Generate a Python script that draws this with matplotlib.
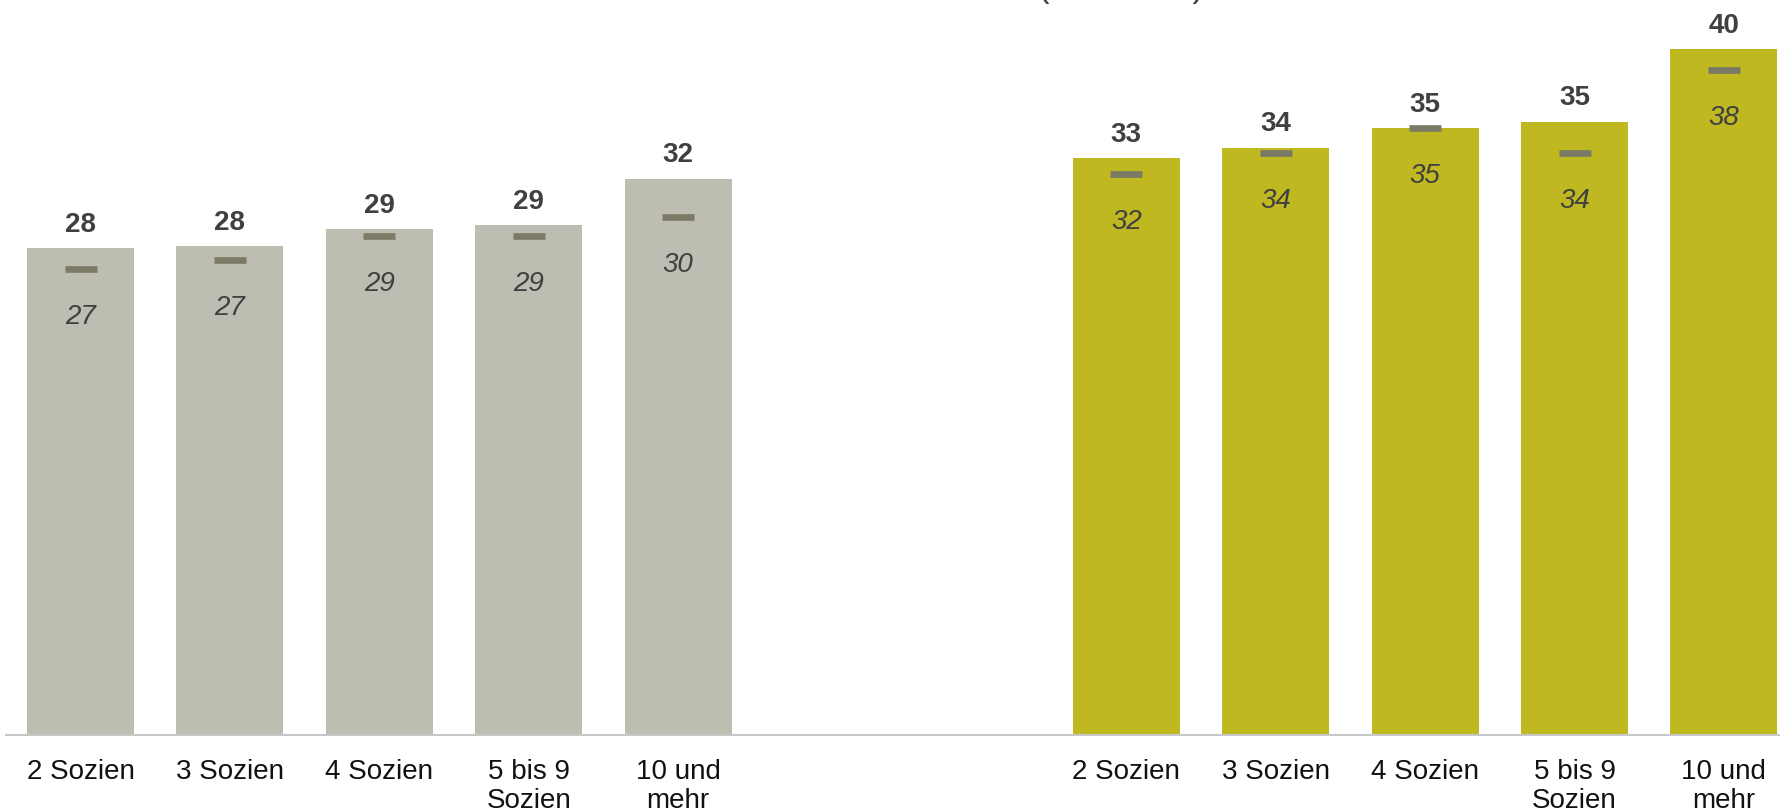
import matplotlib
matplotlib.use("Agg")
import matplotlib.pyplot as plt

plt.rcParams["font.family"] = ["Liberation Sans", "DejaVu Sans"]

# Data
categories = ["2 Sozien", "3 Sozien", "4 Sozien", "5 bis 9\nSozien", "10 und\nmehr"]
left_values = [28.1, 28.2, 29.2, 29.4, 32.1]
left_prev = [26.9, 27.4, 28.8, 28.8, 29.9]
right_values = [33.3, 33.9, 35.0, 35.4, 39.6]
right_prev = [32.4, 33.6, 35.0, 33.6, 38.4]
subtitle = "(in Jahren)"

left_pos = [0, 1, 2, 3, 4]
right_pos = [7, 8, 9, 10, 11]

W, H, DPI = 1781, 812, 100
fig = plt.figure(figsize=(W / DPI, H / DPI), dpi=DPI)

# Axes laid out in pixels: baseline at y=736, 149.4 px per slot
ax_left = 5.8 / W
ax_width = 12 * 149.4 / W
ax_bottom = (H - 736) / H
ax_height = 42 * 17.33 / H
ax = fig.add_axes([ax_left, ax_bottom, ax_width, ax_height])
ax.set_xlim(-0.5, 11.5)
ax.set_ylim(0, 42)

grey_bar = "#BDBDB2"
olive_bar = "#BFB820"
marker_col = "#7B7A66"
text_col = "#404040"
bar_w = 107 / 149.4
tick_w = 32 / 149.4

ax.bar(left_pos, left_values, width=bar_w, color=grey_bar, zorder=1)
ax.bar(right_pos, right_values, width=bar_w, color=olive_bar, zorder=1)

for pos, vals, prev in ((left_pos, left_values, left_prev),
                        (right_pos, right_values, right_prev)):
    ax.hlines(prev, [p - tick_w / 2 for p in pos], [p + tick_w / 2 for p in pos],
              colors=marker_col, linewidth=4.8, capstyle="butt", zorder=3)
    for p, v, pv in zip(pos, vals, prev):
        ax.annotate(f"{v:.0f}", (p, v), xytext=(0, 12.4), textcoords="offset points",
                    ha="center", va="baseline", fontsize=20, fontweight="bold",
                    color=text_col)
        ax.annotate(f"{pv:.0f}", (p, pv), xytext=(0, -38.9), textcoords="offset points",
                    ha="center", va="baseline", fontsize=20, fontstyle="italic",
                    color=text_col, zorder=4)

ax.set_xticks(left_pos + right_pos)
ax.set_xticklabels(categories + categories, fontsize=20, color="#111111",
                   linespacing=1.15)
ax.tick_params(axis="x", length=0, pad=16.5)
ax.set_yticks([])

for side in ("top", "right", "left"):
    ax.spines[side].set_visible(False)
ax.spines["bottom"].set_color("#C8C8C8")
ax.spines["bottom"].set_linewidth(1.5)
ax.spines["bottom"].set_zorder(5)
ax.patch.set_alpha(0)

fig.text(1121 / W, 1 + 2.7 / H, subtitle, ha="center", va="baseline",
         fontsize=25, color=text_col)

fig.savefig("out.png", dpi=DPI, facecolor="white")
